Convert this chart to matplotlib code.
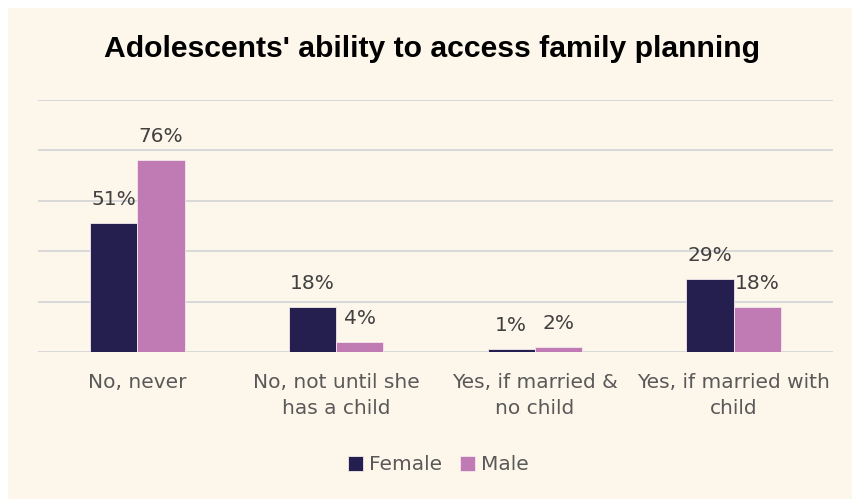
import numpy as np
import matplotlib.pyplot as plt
from matplotlib.patches import Rectangle

# Survey answers, percent of respondents
categories = ["No, never", "No, not until she\nhas a child",
              "Yes, if married &\nno child", "Yes, if married with\nchild"]
female = [51, 18, 1, 29]
male = [76, 4, 2, 18]
series_names = ["Female", "Male"]

FEMALE_COLOR = "#241F4E"
MALE_COLOR = "#C07BB5"
BG = "#FDF6EA"
GRID = "#D9D9D9"

plt.rcParams["font.family"] = ["DejaVu Sans"]

fig = plt.figure(figsize=(8.53, 4.99), dpi=100)
fig.patch.set_facecolor("white")
# cream panel behind the chart
fig.patches.append(Rectangle((8 / 853, 0), 1, 1 - 8 / 499, transform=fig.transFigure,
                             facecolor=BG, edgecolor="none", zorder=-10))

ax = fig.add_axes([38 / 853, 147 / 499, 795 / 853, 252 / 499])
ax.set_zorder(1)
ax.patch.set_alpha(0)

x = np.arange(len(categories))
w = 0.238
bars_f = ax.bar(x - w / 2, female, w, color=FEMALE_COLOR, edgecolor="#F3E9EE",
                linewidth=0.6, label=series_names[0], zorder=3)
bars_m = ax.bar(x + w / 2, male, w, color=MALE_COLOR, edgecolor="#F3E9EE",
                linewidth=0.6, label=series_names[1], zorder=3)

for bars, vals in [(bars_f, female), (bars_m, male)]:
    for b, v in zip(bars, vals):
        ax.annotate(f"{v}%", (b.get_x() + b.get_width() / 2, v),
                    xytext=(0, 13), textcoords="offset points",
                    ha="center", va="baseline", fontsize=14.5, color="#404040")

ax.set_xlim(-0.5, len(categories) - 0.5)
ax.set_ylim(0, 100)
ax.set_yticks(np.arange(0, 101, 20))
ax.yaxis.grid(True, color=GRID, linewidth=1.4, zorder=0)
ax.set_axisbelow(True)
ax.tick_params(axis="y", left=False, labelleft=False)
ax.set_xticks(x)
ax.set_xticklabels(categories, fontsize=14.5, color="#595959", linespacing=1.5)
ax.tick_params(axis="x", length=0, pad=15)
for s in ax.spines.values():
    s.set_visible(False)

fig.text(0.507, 1 - 57 / 499, "Adolescents' ability to access family planning",
         ha="center", va="baseline", fontsize=21.7, fontweight="bold",
         family=["Liberation Sans", "DejaVu Sans"], color="black")

fig.legend(handles=[bars_f, bars_m], labels=series_names, loc="center",
           bbox_to_anchor=(0.514, 1 - 465 / 499), ncol=2, frameon=False,
           fontsize=14.5, labelcolor="#595959", handlelength=0.72,
           handleheight=0.72, handletextpad=0.3, columnspacing=0.9)

fig.savefig("out.png", dpi=100, facecolor=fig.get_facecolor())
